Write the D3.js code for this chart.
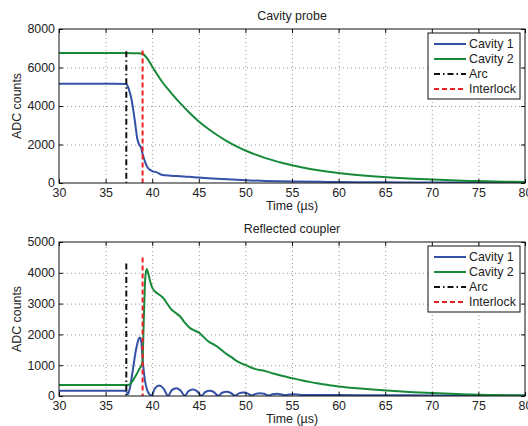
<!DOCTYPE html>
<html>
<head>
<meta charset="utf-8">
<script src="https://cdn.jsdelivr.net/npm/d3@7"></script>
<style>
  body { margin: 0; background: #fff; }
  svg text { font-family: "Liberation Sans", Arial, sans-serif; font-size: 12.4px; fill: #222; }
  .grid line { stroke: #999; stroke-dasharray: 1,3; }
  .grid path { display: none; }
  .axis path, .axis line { stroke: #111; }
</style>
</head>
<body>
<div id="chart"></div>
<script>

// ---- data ----
var xTicks = [30, 35, 40, 45, 50, 55, 60, 65, 70, 75, 80];
var probeTicks = [0, 2000, 4000, 6000, 8000];
var reflTicks = [0, 1000, 2000, 3000, 4000, 5000];
var seriesNames = ["Cavity 1", "Cavity 2", "Arc", "Interlock"];

var arcTime = 37.22;
var interlockTime = 38.97;

// cavity probe
var probe1Time = [30, 32, 34, 36, 37.2, 37.4, 37.6, 37.8, 38.0, 38.2, 38.4, 38.6, 38.8, 39.0, 39.2, 39.4, 39.6, 39.8, 40.0, 40.5, 41, 42, 43, 44, 45, 46, 47, 48, 50, 52, 55, 58, 60, 65, 70, 75, 80];
var probe1Val  = [5150, 5160, 5150, 5150, 5140, 5000, 4700, 4300, 3700, 3000, 2300, 2000, 1850, 1450, 1150, 900, 750, 680, 620, 550, 430, 380, 350, 320, 280, 250, 220, 190, 140, 110, 80, 60, 50, 35, 25, 20, 15];

var probe2Time = [30, 34, 37, 38, 38.6, 39, 39.5, 40, 41, 42, 43, 44, 45, 46, 47, 48, 49, 50, 52, 54, 56, 58, 60, 62, 64, 66, 68, 70, 72, 74, 76, 78, 80];
var probe2Val  = [6750, 6750, 6750, 6745, 6740, 6700, 6450, 6050, 5300, 4700, 4150, 3650, 3200, 2820, 2480, 2180, 1920, 1690, 1320, 1040, 820, 650, 520, 420, 340, 275, 220, 180, 140, 110, 85, 65, 50];

var probeArc = [0, 6850];
var probeInterlock = [0, 6880];

// reflected coupler
var refl1Time = [30, 34, 37, 37.2, 37.4, 37.6, 37.8, 38.0, 38.2, 38.4, 38.6, 38.7, 38.85, 39.0, 39.2, 39.45, 39.7, 39.9,
  40.3, 40.75, 41.2, 41.7, 42.1, 42.6, 43.0, 43.5, 43.9, 44.4, 44.8, 45.3, 45.7, 46.2, 46.6, 47.1,
  47.5, 48.0, 48.4, 48.9, 49.3, 49.8, 50.2, 50.7, 51.1, 51.6, 52.0, 52.5, 52.9, 53.4, 53.8, 54.3,
  54.7, 55.2, 55.6, 56.1, 58, 60, 65, 70, 75, 80];
var refl1Val  = [170, 170, 170, 160, 60, 250, 600, 1000, 1400, 1700, 1880, 1900, 1700, 1100, 550, 200, 60, 10,
  250, 340, 250, 10, 190, 250, 190, 10, 160, 210, 160, 10, 130, 170, 130, 10,
  105, 140, 105, 10, 85, 110, 85, 15, 70, 90, 70, 20, 55, 70, 55, 25,
  50, 60, 50, 30, 35, 30, 25, 20, 15, 15];

var refl2Time = [30, 34, 37.4, 37.6, 37.8, 38.0, 38.2, 38.4, 38.6, 38.8, 38.95, 39.1, 39.25, 39.4, 39.6, 39.8, 40.0, 40.4, 40.8, 41.2, 41.6, 42.0, 42.5, 43.0, 43.5, 44.0, 44.5, 45.0, 45.5, 46.0, 46.5, 47.0, 47.5, 48.0, 48.5, 49.0, 49.5, 50.0, 50.5, 51.0, 51.5, 52.0, 53, 54, 55, 56, 57, 58, 59, 60, 62, 64, 66, 68, 70, 72, 74, 76, 78, 80];
var refl2Val  = [360, 360, 360, 380, 450, 540, 640, 750, 870, 960, 1100, 2500, 3800, 4120, 3950, 3700, 3520, 3370, 3280, 3180, 3000, 2830, 2700, 2580, 2380, 2220, 2130, 2060, 1920, 1780, 1690, 1600, 1480, 1360, 1260, 1150, 1070, 1010, 940, 880, 845, 820, 730, 650, 580, 510, 450, 400, 350, 310, 250, 200, 160, 125, 95, 70, 50, 35, 25, 20];

var reflArc = [0, 4300];
var reflInterlock = [0, 4500];

var colors = { c1: "#3351a6", c2: "#178a3a", arc: "#111", lock: "#ee2024" };
var arcDash = "6,3,1.5,3";
var lockDash = "5,3";

function zipSeries(ts, vs) {
  return ts.map(function(t, i) { return { time: t, count: vs[i] }; });
}

/*
 * Panel - one subplot
 */
Panel = function(_svg, _opts) {
  this.svg = _svg;
  this.opts = _opts;
  this.initVis();
}

Panel.prototype.initVis = function() {
  var vis = this, o = vis.opts;

  vis.width = 466;
  vis.height = 154;

  vis.g = vis.svg.append("g")
      .attr("transform", "translate(" + o.left + "," + o.top + ")");

  vis.x = d3.scaleLinear().domain([30, 80]).range([0, vis.width]);
  vis.y = d3.scaleLinear().domain([0, o.yMax]).range([vis.height, 0]);

  // grid
  vis.g.append("g").attr("class", "grid")
      .attr("transform", "translate(0," + vis.height + ")")
      .call(d3.axisBottom(vis.x).tickValues(xTicks.slice(1, -1)).tickSize(-vis.height).tickFormat(""));
  vis.g.append("g").attr("class", "grid")
      .call(d3.axisLeft(vis.y).tickValues(o.yTicks.slice(1, -1)).tickSize(-vis.width).tickFormat(""));

  // clip
  vis.g.append("clipPath").attr("id", "clip" + o.id)
    .append("rect").attr("width", vis.width).attr("height", vis.height);

  var line = d3.line()
      .curve(d3.curveMonotoneX)
      .x(function(d) { return vis.x(d.time); })
      .y(function(d) { return vis.y(d.count); });

  var plot = vis.g.append("g").attr("clip-path", "url(#clip" + o.id + ")");

  plot.append("path").datum(o.s1)
      .attr("fill", "none").attr("stroke", colors.c1).attr("stroke-width", 2)
      .attr("d", line);
  plot.append("path").datum(o.s2)
      .attr("fill", "none").attr("stroke", colors.c2).attr("stroke-width", 2)
      .attr("d", line);

  plot.append("line")
      .attr("x1", vis.x(arcTime)).attr("x2", vis.x(arcTime))
      .attr("y1", vis.y(o.arc[1])).attr("y2", vis.y(o.arc[0]))
      .attr("stroke", colors.arc).attr("stroke-width", 2).attr("stroke-dasharray", arcDash);
  plot.append("line")
      .attr("x1", vis.x(interlockTime)).attr("x2", vis.x(interlockTime))
      .attr("y1", vis.y(o.lock[1])).attr("y2", vis.y(o.lock[0]))
      .attr("stroke", colors.lock).attr("stroke-width", 2).attr("stroke-dasharray", lockDash);

  // axes (inward ticks on all sides)
  var xAxis = vis.g.append("g").attr("class", "axis")
      .attr("transform", "translate(0," + vis.height + ")")
      .call(d3.axisBottom(vis.x).tickValues(xTicks).tickSizeInner(-4).tickSizeOuter(0).tickPadding(5));
  xAxis.selectAll("text").attr("dy", "0.71em").style("font-size", "12.4px");
  vis.g.append("g").attr("class", "axis")
      .call(d3.axisTop(vis.x).tickValues(xTicks).tickSizeInner(-4).tickSizeOuter(0).tickFormat(""));
  var yAxis = vis.g.append("g").attr("class", "axis")
      .call(d3.axisLeft(vis.y).tickValues(o.yTicks).tickSizeInner(-4).tickSizeOuter(0)
        .tickPadding(4).tickFormat(d3.format("d")));
  yAxis.selectAll("text").style("font-size", "12.4px");
  vis.g.append("g").attr("class", "axis")
      .attr("transform", "translate(" + vis.width + ",0)")
      .call(d3.axisRight(vis.y).tickValues(o.yTicks).tickSizeInner(-4).tickSizeOuter(0).tickFormat(""));
  vis.g.selectAll(".axis .domain").remove();

  vis.g.append("rect")
      .attr("width", vis.width).attr("height", vis.height)
      .attr("fill", "none").attr("stroke", "#111").attr("stroke-width", 1);

  // labels
  vis.g.append("text")
      .attr("x", vis.width / 2).attr("y", -9)
      .attr("text-anchor", "middle")
      .text(o.title);
  vis.g.append("text")
      .attr("x", vis.width / 2).attr("y", vis.height + 27)
      .attr("text-anchor", "middle")
      .text("Time (\u00b5s)");
  vis.g.append("text")
      .attr("transform", "translate(-38," + (vis.height / 2) + ") rotate(-90)")
      .attr("text-anchor", "middle")
      .text("ADC counts");

  // legend
  var lg = vis.g.append("g").attr("transform", "translate(" + (vis.width - 97) + ",4)");
  lg.append("rect").attr("width", 92).attr("height", 66)
      .attr("fill", "#fff").attr("stroke", "#111");
  var styles = [
    { c: colors.c1, d: null },
    { c: colors.c2, d: null },
    { c: colors.arc, d: arcDash },
    { c: colors.lock, d: lockDash }
  ];
  seriesNames.forEach(function(name, i) {
    var yy = 11 + i * 15;
    lg.append("line")
        .attr("x1", 6).attr("x2", 38).attr("y1", yy).attr("y2", yy)
        .attr("stroke", styles[i].c).attr("stroke-width", 2)
        .attr("stroke-dasharray", styles[i].d);
    lg.append("text")
        .attr("x", 41).attr("y", yy).attr("dy", "0.35em")
        .text(name);
  });
}

var svg = d3.select("#chart").append("svg")
    .attr("width", 528).attr("height", 426);

new Panel(svg, {
  id: "a", left: 59, top: 29, yMax: 8000, yTicks: probeTicks, title: "Cavity probe",
  s1: zipSeries(probe1Time, probe1Val), s2: zipSeries(probe2Time, probe2Val),
  arc: probeArc, lock: probeInterlock
});
new Panel(svg, {
  id: "b", left: 59, top: 242, yMax: 5000, yTicks: reflTicks, title: "Reflected coupler",
  s1: zipSeries(refl1Time, refl1Val), s2: zipSeries(refl2Time, refl2Val),
  arc: reflArc, lock: reflInterlock
});

</script>
</body>
</html>
